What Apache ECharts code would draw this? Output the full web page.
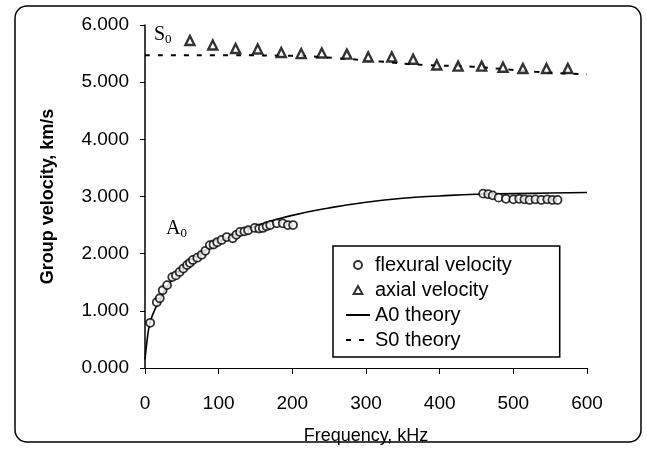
<!DOCTYPE html>
<html>
<head>
<meta charset="utf-8">
<script src="https://cdn.jsdelivr.net/npm/echarts@6/dist/echarts.min.js"></script>
<style>
  html, body { margin: 0; padding: 0; background: #fff; }
  #chart { width: 647px; height: 450px; }
</style>
</head>
<body>
<div id="chart"></div>
<script>
// measured points, [frequency kHz, group velocity km/s]
var flexural = [
  [7, 0.79], [16, 1.15], [20, 1.22], [24, 1.36], [30, 1.45], [37, 1.59], [42, 1.62], [47, 1.68],
  [52, 1.74], [57, 1.80], [61, 1.84], [65, 1.89], [71, 1.93], [77, 1.98], [82, 2.05],
  [88, 2.15], [93, 2.16], [98, 2.20], [104, 2.24], [111, 2.29], [119, 2.27], [124, 2.33],
  [129, 2.38], [135, 2.39], [140, 2.41], [149, 2.45], [155, 2.44], [160, 2.45], [165, 2.48],
  [170, 2.50], [179, 2.53], [187, 2.53], [194, 2.50], [201, 2.50],
  [459, 3.05], [466, 3.04], [472, 3.02], [480, 2.98], [490, 2.96], [500, 2.95], [508, 2.96],
  [515, 2.95], [522, 2.94], [530, 2.95], [538, 2.94], [546, 2.95], [553, 2.94], [560, 2.94]
];
var axial = [
  [61, 5.73], [92, 5.65], [123, 5.59], [153, 5.58], [185, 5.52], [212, 5.50], [240, 5.51],
  [274, 5.49], [303, 5.44], [335, 5.44], [364, 5.40], [396, 5.30], [425, 5.28], [457, 5.28],
  [486, 5.26], [513, 5.24], [545, 5.24], [574, 5.24], [604, 5.23]
];
// theory curves
var a0Theory = [
  [0, 0.15], [3, 0.5], [6, 0.75], [10, 0.92], [20, 1.2], [30, 1.42], [50, 1.75], [75, 2.0],
  [100, 2.2], [150, 2.48], [200, 2.67], [250, 2.8], [300, 2.9], [350, 2.97], [400, 3.01],
  [450, 3.04], [500, 3.05], [550, 3.06], [600, 3.07]
];
var s0Theory = [
  [0, 5.47], [100, 5.47], [200, 5.46], [260, 5.42], [320, 5.36], [380, 5.30], [445, 5.27],
  [532, 5.18], [600, 5.14]
];
var yTicks = [0, 1, 2, 3, 4, 5, 6];
var xTicks = [0, 100, 200, 300, 400, 500, 600];

var chart = echarts.init(document.getElementById("chart"));
var font = "Liberation Sans, Arial, sans-serif";
var serif = "Liberation Serif, Times New Roman, serif";

var option = {
  animation: false,
  backgroundColor: "#fff",
  textStyle: { fontFamily: font, color: "#000" },
  grid: { left: 145, right: 60, top: 25, bottom: 82, outerBoundsMode: "none" },
  xAxis: {
    type: "value",
    min: xTicks[0],
    max: xTicks[xTicks.length - 1],
    interval: 100,
    name: "Frequency, kHz",
    nameLocation: "middle",
    nameGap: 59,
    nameTextStyle: { fontSize: 18, fontFamily: font, color: "#000" },
    axisLine: { lineStyle: { color: "#000", width: 1.2 } },
    axisTick: { length: 6, lineStyle: { color: "#000" } },
    axisLabel: { fontSize: 19, color: "#000", fontFamily: font, margin: 26 },
    splitLine: { show: false }
  },
  yAxis: {
    type: "value",
    min: yTicks[0],
    max: yTicks[yTicks.length - 1],
    interval: 1,
    name: "Group velocity, km/s",
    nameLocation: "middle",
    nameGap: 88,
    nameTextStyle: { fontSize: 18, fontWeight: "bold", fontFamily: font, color: "#000" },
    axisLine: { show: true, lineStyle: { color: "#000", width: 1.5 } },
    axisTick: { show: true, length: 5, lineStyle: { color: "#000" } },
    axisLabel: {
      fontSize: 19, color: "#000", fontFamily: font, margin: 16,
      formatter: function (v) { return v.toFixed(3); }
    },
    splitLine: { show: false }
  },
  legend: {
    orient: "vertical",
    left: 333,
    top: 246,
    padding: [9, 48, 7, 12],
    itemGap: 5,
    itemWidth: 24,
    itemHeight: 8,
    symbolKeepAspect: true,
    borderColor: "#000",
    borderWidth: 1.5,
    borderRadius: 0,
    textStyle: { fontSize: 20, color: "#000", fontFamily: font },
    data: [
      { name: "flexural velocity" },
      { name: "axial velocity", icon: "path://M0,10L5.5,0L11,10Z" },
      { name: "A0 theory", itemStyle: { opacity: 0 } },
      { name: "S0 theory", itemStyle: { opacity: 0 } }
    ]
  },
  graphic: [
    {
      type: "rect",
      shape: { x: 15, y: 6, width: 626, height: 436, r: 12 },
      style: { fill: "none", stroke: "#000", lineWidth: 1.5 },
      silent: true
    },
    {
      type: "text",
      left: 154, top: 25,
      style: {
        text: "{m|S}{s|0}",
        rich: {
          m: { fontFamily: serif, fontSize: 20, fill: "#000" },
          s: { fontFamily: serif, fontSize: 13, fill: "#000", padding: [9, 0, 0, 0] }
        }
      }
    },
    {
      type: "text",
      left: 166, top: 219,
      style: {
        text: "{m|A}{s|0}",
        rich: {
          m: { fontFamily: serif, fontSize: 20, fill: "#000" },
          s: { fontFamily: serif, fontSize: 13, fill: "#000", padding: [9, 0, 0, 0] }
        }
      }
    }
  ],
  series: [
    {
      name: "A0 theory",
      type: "line",
      data: a0Theory,
      smooth: true,
      symbol: "none",
      lineStyle: { color: "#000", width: 1.6 },
      itemStyle: { color: "#000" },
      z: 2
    },
    {
      name: "S0 theory",
      type: "line",
      data: s0Theory,
      smooth: true,
      symbol: "none",
      lineStyle: { color: "#000", width: 2, type: [5, 8] },
      itemStyle: { color: "#000" },
      z: 2
    },
    {
      name: "flexural velocity",
      type: "scatter",
      data: flexural,
      symbol: "circle",
      symbolSize: 8,
      itemStyle: { color: "#fff", borderColor: "#000", borderWidth: 1.8 },
      z: 3
    },
    {
      name: "axial velocity",
      type: "scatter",
      data: axial,
      symbol: "triangle",
      symbolSize: 9,
      itemStyle: { color: "#fff", borderColor: "#000", borderWidth: 2.4 },
      z: 3
    }
  ]
};
chart.setOption(option);
</script>
</body>
</html>
